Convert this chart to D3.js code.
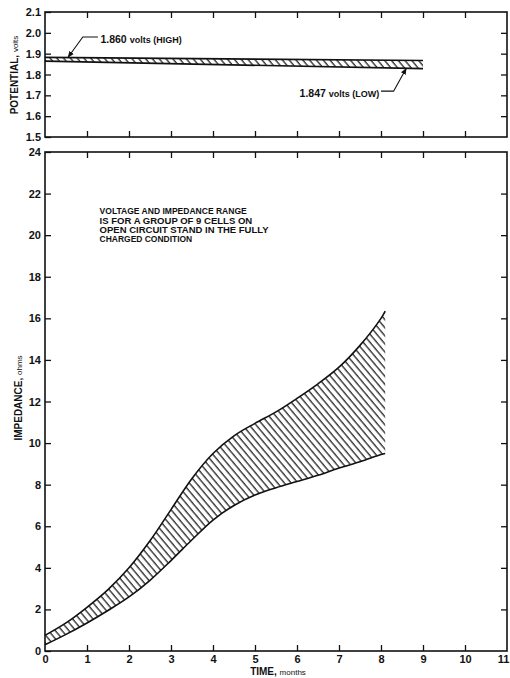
<!DOCTYPE html>
<html lang='en'>

<head>
    <meta charset='UTF-8' />
    <title>Potential and impedance vs time</title>
    <script src="https://cdn.jsdelivr.net/npm/d3@7"></script>
    <style>
        html,
        body {
            margin: 0;
            background: white;
        }

        text {
            font-family: "Liberation Sans", Arial, sans-serif;
            fill: #111;
        }
    </style>
</head>

<body>
    <div id="container"></div>

    <script>
        // begin data //

        const months = [0, 1, 2, 3, 4, 5, 6, 7, 8, 9, 10, 11];
        const potentialTicks = [1.5, 1.6, 1.7, 1.8, 1.9, 2.0, 2.1];
        const impedanceTicks = [0, 2, 4, 6, 8, 10, 12, 14, 16, 18, 20, 22, 24];

        // potential band, month -> volts (as drawn)
        const potentialHigh = [[0, 1.882], [9, 1.867]];
        const potentialLow = [[0, 1.864], [9, 1.828]];

        // impedance band, month -> ohms
        const impedanceHigh = [
            [0, 0.75], [0.5, 1.35], [1, 2.1], [1.5, 2.95], [2, 4.0], [2.5, 5.3],
            [3, 6.8], [3.5, 8.3], [4, 9.5], [4.5, 10.35], [5, 10.95], [5.5, 11.5],
            [6, 12.15], [6.5, 12.85], [7, 13.65], [7.5, 14.7], [8, 16.0], [8.1, 16.35]
        ];
        const impedanceLow = [
            [0, 0.3], [0.5, 0.8], [1, 1.35], [1.5, 1.95], [2, 2.6], [2.5, 3.4],
            [3, 4.35], [3.5, 5.35], [4, 6.3], [4.5, 7.0], [5, 7.5], [5.5, 7.85],
            [6, 8.15], [6.5, 8.45], [7, 8.8], [7.5, 9.1], [8, 9.45], [8.1, 9.5]
        ];

        const noteLines = [
            "VOLTAGE AND IMPEDANCE RANGE",
            "IS FOR A GROUP OF 9 CELLS ON",
            "OPEN CIRCUIT STAND IN THE FULLY",
            "CHARGED CONDITION"
        ];

        // end data //

        const width = 510, height = 678;
        const left = 45, right = 507;

        const svg = d3.select("#container")
            .append("svg")
            .attr("width", width)
            .attr("height", height);

        const defs = svg.append("defs");
        defs.append("pattern")
            .attr("id", "hatch")
            .attr("patternUnits", "userSpaceOnUse")
            .attr("width", 5.2)
            .attr("height", 10)
            .attr("patternTransform", "rotate(-40)")
            .append("line")
            .attr("x1", 1).attr("y1", 0)
            .attr("x2", 1).attr("y2", 10)
            .attr("stroke", "#111")
            .attr("stroke-width", 1.2);

        defs.append("marker")
            .attr("id", "arrow")
            .attr("viewBox", "0 0 10 10")
            .attr("refX", 9).attr("refY", 5)
            .attr("markerWidth", 6).attr("markerHeight", 6)
            .attr("orient", "auto")
            .append("path")
            .attr("d", "M0,1 L10,5 L0,9 Z")
            .attr("fill", "#111");

        const x = d3.scaleLinear().domain([0, 11]).range([left, right]);
        const yTop = d3.scaleLinear().domain([1.5, 2.1]).range([137, 12]);
        const yBot = d3.scaleLinear().domain([0, 24]).range([651, 152]);

        function frame(y) {
            const [y0, y1] = y.range();
            svg.append("rect")
                .attr("x", left).attr("y", y1)
                .attr("width", right - left).attr("height", y0 - y1)
                .attr("fill", "none")
                .attr("stroke", "#111")
                .attr("stroke-width", 1.6);
        }

        function styleAxis(g) {
            g.select(".domain").remove();
            g.selectAll(".tick line").attr("stroke", "#111").attr("stroke-width", 1.3);
            g.selectAll(".tick text")
                .attr("font-size", 11)
                .attr("font-weight", "bold")
                .attr("font-family", "'Liberation Sans', Arial, sans-serif")
                .attr("fill", "#111");
        }

        function panel(y, ticks, fmt, showXLabels) {
            const [y0, y1] = y.range();
            const inner = months.slice(1, -1);
            svg.append("g")
                .attr("transform", `translate(${left},0)`)
                .call(d3.axisLeft(y).tickValues(ticks).tickSize(-6).tickPadding(4).tickFormat(fmt))
                .call(styleAxis);
            svg.append("g")
                .attr("transform", `translate(${right},0)`)
                .call(d3.axisRight(y).tickValues(ticks.slice(1, -1)).tickSize(-6).tickFormat(""))
                .call(styleAxis);
            svg.append("g")
                .attr("transform", `translate(0,${y1})`)
                .call(d3.axisTop(x).tickValues(inner).tickSize(-6).tickFormat(""))
                .call(styleAxis);
            svg.append("g")
                .attr("transform", `translate(0,${y0})`)
                .call(d3.axisBottom(x).tickValues(showXLabels ? months : inner).tickSize(-6).tickPadding(4)
                    .tickFormat(showXLabels ? d3.format("d") : ""))
                .call(styleAxis)
                .call(g => g.selectAll(".tick line").filter(d => d === 0 || d === 11).remove())
                .call(g => g.selectAll(".tick text").filter(d => d === 11).attr("dx", -4));
            frame(y);
        }

        function band(y, hi, lo, curve) {
            const area = d3.area()
                .x(d => x(d[0]))
                .y0((d, i) => y(lo[i][1]))
                .y1(d => y(d[1]))
                .curve(curve);
            svg.append("path")
                .attr("d", area(hi))
                .attr("fill", "url(#hatch)");
            const line = d3.line().x(d => x(d[0])).y(d => y(d[1])).curve(curve);
            [hi, lo].forEach(series => {
                svg.append("path")
                    .attr("d", line(series))
                    .attr("fill", "none")
                    .attr("stroke", "#111")
                    .attr("stroke-width", 1.6);
            });
        }

        // top panel: potential
        band(yTop, potentialHigh, potentialLow, d3.curveLinear);
        panel(yTop, potentialTicks, d3.format(".1f"), false);

        // bottom panel: impedance
        band(yBot, impedanceHigh, impedanceLow, d3.curveCatmullRom.alpha(0.5));
        panel(yBot, impedanceTicks, d3.format("d"), true);

        // axis titles
        function axisTitle(xPos, yPos, rotate, big, small) {
            const t = svg.append("text")
                .attr("transform", `translate(${xPos},${yPos}) rotate(${rotate})`)
                .attr("text-anchor", "middle")
                .attr("font-weight", "bold");
            t.append("tspan").attr("font-size", 10).text(big);
            t.append("tspan").attr("font-size", 8).attr("font-weight", "normal").text(small);
        }
        axisTitle(18, 75, -90, "POTENTIAL, ", "volts");
        axisTitle(22, 398, -90, "IMPEDANCE, ", "ohms");
        axisTitle(278, 675, 0, "TIME, ", "months");

        // note
        svg.append("g")
            .selectAll("text")
            .data(noteLines)
            .join("text")
            .attr("x", x(1.3))
            .attr("y", (d, i) => yBot(21.0) + i * 9.2)
            .attr("font-size", 8.9)
            .attr("font-weight", "bold")
            .attr("textLength", d => d.length * 5.45)
            .attr("lengthAdjust", "spacingAndGlyphs")
            .text(d => d);

        // annotations on potential band
        function annotate(pts, labelPos, anchor, num, unit) {
            svg.append("path")
                .attr("d", d3.line().x(d => x(d[0])).y(d => yTop(d[1]))(pts))
                .attr("fill", "none")
                .attr("stroke", "#111")
                .attr("stroke-width", 1.1)
                .attr("marker-end", "url(#arrow)");
            const t = svg.append("text")
                .attr("x", x(labelPos[0]))
                .attr("y", yTop(labelPos[1]))
                .attr("dy", "0.35em")
                .attr("text-anchor", anchor);
            t.append("tspan").attr("font-size", 10.5).attr("font-weight", "bold").text(num);
            t.append("tspan").attr("font-size", 9).attr("font-weight", "bold").text(unit);
        }
        annotate([[1.26, 1.98], [0.9, 1.98], [0.55, 1.883]], [1.32, 1.98], "start", "1.860 ", "volts (HIGH)");
        annotate([[8.0, 1.72], [8.3, 1.72], [8.6, 1.829]], [7.96, 1.72], "end", "1.847 ", "volts (LOW)");
    </script>
</body>

</html>
